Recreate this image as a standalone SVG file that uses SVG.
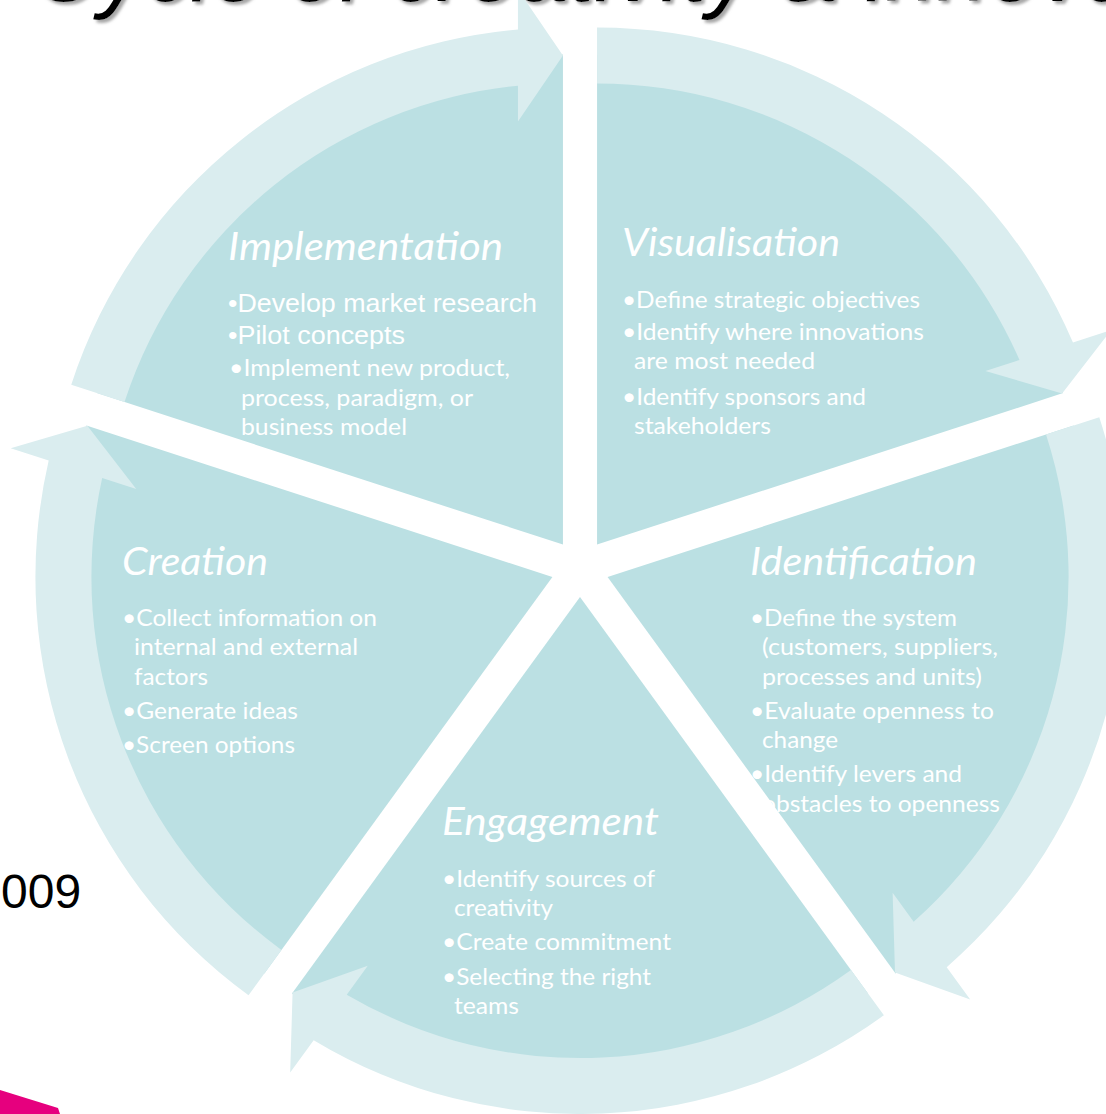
<svg xmlns="http://www.w3.org/2000/svg" width="1106" height="1114" viewBox="0 0 1106 1114">
<style>
.slice{fill:#BBE0E3}
.arrow{fill:#DAEDEF}
.h{font-family:Lato,"Open Sans",sans-serif;font-style:italic;font-size:38px;fill:#fff}
.t{font-family:Lato,"Open Sans",sans-serif;font-size:24px;fill:#fff}
.a{font-family:"Liberation Sans",Arial,sans-serif;font-size:26px;fill:#fff}
.title{font-family:"Liberation Sans",Arial,sans-serif;font-style:italic;font-size:92px;fill:#000}
</style>
<defs>
<filter id="shadow" x="-5%" y="-50%" width="110%" height="200%">
<feDropShadow dx="3" dy="3" stdDeviation="1.5" flood-color="#808080" flood-opacity="0.7"/>
</filter>
<path id="sliceShape" d="M0 0 L-466.02 -151.42 A490 490 0 0 1 0 -490 Z"/>
<path id="arrowShape" d="M-491.70 -159.76 A517 517 0 0 1 -45 -515.04 L-45 -555 L0 -489 L-45 -423 L-45 -458.80 A461 461 0 0 0 -438.44 -142.46 Z"/>
</defs>
<rect width="1106" height="1114" fill="#fff"/>
<g id="title">
<text class="title" x="32" y="1" filter="url(#shadow)">Cycle of creativity &amp; innovation</text>
</g>
<g id="implementation">
<use href="#sliceShape" class="slice" transform="translate(562.95,544.54)"/>
<text class="h" x="228" y="260" textLength="275" lengthAdjust="spacingAndGlyphs">Implementation</text>
<text class="a" x="228" y="312" textLength="309" lengthAdjust="spacingAndGlyphs">•Develop market research</text>
<text class="a" x="228" y="344" textLength="177" lengthAdjust="spacingAndGlyphs">•Pilot concepts</text>
<text class="t" x="229" y="376" textLength="281" lengthAdjust="spacingAndGlyphs">•Implement new product,</text>
<text class="t" x="241" y="406" textLength="232" lengthAdjust="spacingAndGlyphs">process, paradigm, or</text>
<text class="t" x="241" y="435" textLength="166" lengthAdjust="spacingAndGlyphs">business model</text>
</g>
<g id="visualisation">
<use href="#sliceShape" class="slice" transform="translate(597.05,544.54) rotate(72)"/>
<text class="h" x="622" y="256" textLength="218" lengthAdjust="spacingAndGlyphs">Visualisation</text>
<text class="t" x="622" y="308" textLength="298" lengthAdjust="spacingAndGlyphs">•Define strategic objectives</text>
<text class="t" x="622" y="340" textLength="302" lengthAdjust="spacingAndGlyphs">•Identify where innovations</text>
<text class="t" x="634" y="369" textLength="181" lengthAdjust="spacingAndGlyphs">are most needed</text>
<text class="t" x="622" y="405" textLength="244" lengthAdjust="spacingAndGlyphs">•Identify sponsors and</text>
<text class="t" x="634" y="434" textLength="137" lengthAdjust="spacingAndGlyphs">stakeholders</text>
</g>
<g id="identification">
<use href="#sliceShape" class="slice" transform="translate(607.58,576.96) rotate(144)"/>
<text class="h" x="750" y="575" textLength="227" lengthAdjust="spacingAndGlyphs">Identification</text>
<text class="t" x="750" y="626" textLength="207" lengthAdjust="spacingAndGlyphs">•Define the system</text>
<text class="t" x="762" y="655" textLength="236" lengthAdjust="spacingAndGlyphs">(customers, suppliers,</text>
<text class="t" x="762" y="685" textLength="220" lengthAdjust="spacingAndGlyphs">processes and units)</text>
<text class="t" x="750" y="719" textLength="244" lengthAdjust="spacingAndGlyphs">•Evaluate openness to</text>
<text class="t" x="762" y="748" textLength="76" lengthAdjust="spacingAndGlyphs">change</text>
<text class="t" x="750" y="782" textLength="212" lengthAdjust="spacingAndGlyphs">•Identify levers and</text>
<text class="t" x="762" y="812" textLength="238" lengthAdjust="spacingAndGlyphs">obstacles to openness</text>
</g>
<g id="engagement">
<use href="#sliceShape" class="slice" transform="translate(580,597) rotate(216)"/>
<text class="h" x="442" y="835" textLength="217" lengthAdjust="spacingAndGlyphs">Engagement</text>
<text class="t" x="442" y="887" textLength="213" lengthAdjust="spacingAndGlyphs">•Identify sources of</text>
<text class="t" x="454" y="916" textLength="99" lengthAdjust="spacingAndGlyphs">creativity</text>
<text class="t" x="442" y="950" textLength="229" lengthAdjust="spacingAndGlyphs">•Create commitment</text>
<text class="t" x="442" y="985" textLength="209" lengthAdjust="spacingAndGlyphs">•Selecting the right</text>
<text class="t" x="454" y="1014" textLength="65" lengthAdjust="spacingAndGlyphs">teams</text>
</g>
<g id="creation">
<use href="#sliceShape" class="slice" transform="translate(552.42,576.96) rotate(288)"/>
<text class="h" x="122" y="575" textLength="146" lengthAdjust="spacingAndGlyphs">Creation</text>
<text class="t" x="122" y="626" textLength="255" lengthAdjust="spacingAndGlyphs">•Collect information on</text>
<text class="t" x="134" y="655" textLength="224" lengthAdjust="spacingAndGlyphs">internal and external</text>
<text class="t" x="134" y="685" textLength="74" lengthAdjust="spacingAndGlyphs">factors</text>
<text class="t" x="122" y="719" textLength="176" lengthAdjust="spacingAndGlyphs">•Generate ideas</text>
<text class="t" x="122" y="753" textLength="173" lengthAdjust="spacingAndGlyphs">•Screen options</text>
</g>
<g id="connectors">
<use href="#arrowShape" class="arrow" transform="translate(562.95,544.54)"/>
<use href="#arrowShape" class="arrow" transform="translate(597.05,544.54) rotate(72)"/>
<use href="#arrowShape" class="arrow" transform="translate(607.58,576.96) rotate(144)"/>
<use href="#arrowShape" class="arrow" transform="translate(580,597) rotate(216)"/>
<use href="#arrowShape" class="arrow" transform="translate(552.42,576.96) rotate(288)"/>
</g>
<g id="footer">
<text x="1" y="908" font-family="'Liberation Sans',Arial,sans-serif" font-size="48" fill="#000">009</text>
<polygon points="0,1090 58,1108 60,1114 0,1114" fill="#E6007E"/>
</g>
</svg>
